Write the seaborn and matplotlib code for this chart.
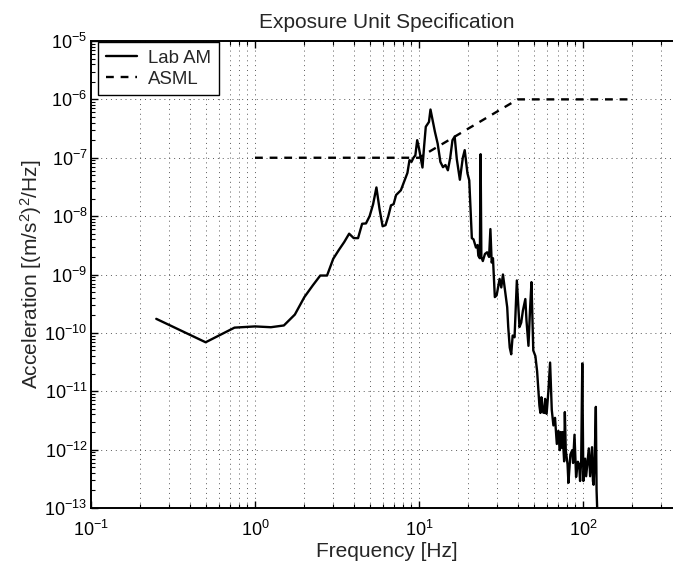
import matplotlib
matplotlib.use("Agg")
import matplotlib.pyplot as plt
import seaborn as sns
import pandas as pd
from matplotlib.ticker import LogLocator, NullFormatter, FixedLocator, FixedFormatter

# ---- data ----
lab_freq = [0.25, 0.5, 0.75, 1.0, 1.25, 1.5, 1.75, 2.0, 2.25, 2.5, 2.75, 3.0, 3.25, 3.5,
            3.75, 4.0, 4.25, 4.5, 4.75, 5.0, 5.25, 5.5, 5.75, 6.0, 6.25, 6.5, 6.75, 7.0,
            7.25, 7.75, 8.0, 8.25, 8.5, 8.75, 9.0, 9.25, 9.5, 9.75, 10.0, 10.25, 10.5,
            10.75, 11.0, 11.5, 11.75, 12.0, 12.5, 13.0, 13.5, 14.0, 14.5, 15.0, 15.5,
            16.0, 16.5, 17.0, 17.75, 18.5, 19.0, 19.75, 20.25, 21.0, 21.5, 22.25, 22.75,
            23.0, 23.5, 23.75, 24.0, 24.5, 25.25, 26.0, 26.75, 27.25, 27.75, 28.25, 29.0,
            29.75, 31.0, 31.75, 32.5, 33.75, 34.5, 35.0, 35.75, 36.5, 37.25, 38.25, 39.5,
            41.0, 42.0, 43.0, 44.5, 45.25, 46.5, 47.5, 48.5, 49.75, 51.25, 52.5, 54.25,
            55.0, 55.75, 56.75, 57.25, 58.5, 58.75, 60.0, 61.5, 63.0, 64.5, 66.0, 67.5,
            69.25, 70.75, 72.25, 73.0, 74.5, 75.0, 76.75, 77.5, 78.5, 80.5, 81.5, 83.75,
            86.0, 87.0, 88.75, 90.75, 93.0, 94.75, 96.0, 97.5, 99.0, 100.5, 103.0, 104.5,
            107.0, 108.5, 110.5, 113.5, 115.0, 116.0, 118.0, 119.75, 121.0, 122.0]
lab_accel = [1.74e-10, 6.9e-11, 1.23e-10, 1.29e-10, 1.25e-10, 1.34e-10, 2.06e-10, 4.1e-10,
             6.5e-10, 9.6e-10, 9.6e-10, 1.86e-9, 2.65e-9, 3.6e-9, 5.0e-9, 4.2e-9, 4.2e-9,
             7.4e-9, 7.5e-9, 1.0e-8, 1.6e-8, 3.1e-8, 1.3e-8, 6.7e-9, 7.0e-9, 1.0e-8,
             1.53e-8, 1.6e-8, 2.3e-8, 2.77e-8, 3.5e-8, 4.4e-8, 5.5e-8, 9.1e-8, 8.5e-8,
             1.0e-7, 1.1e-7, 2.0e-7, 1.45e-7, 1.0e-7, 6.8e-8, 1.6e-7, 3.4e-7, 4.1e-7,
             6.7e-7, 5.0e-7, 2.8e-7, 1.74e-7, 8.5e-8, 6.9e-8, 7.5e-8, 6.1e-8, 1.0e-7,
             2.0e-7, 2.3e-7, 9.5e-8, 4.2e-8, 1.0e-7, 1.35e-7, 5.4e-8, 4.1e-8, 4.2e-9,
             4.0e-9, 2.9e-9, 3.2e-9, 2.1e-9, 1.9e-9, 1.15e-7, 2.0e-9, 1.7e-9, 2.25e-9,
             2.4e-9, 2.0e-9, 6.0e-9, 1.6e-9, 1.9e-9, 4.1e-10, 4.4e-10, 8.4e-10, 6.0e-10,
             1.0e-9, 4.4e-10, 2.75e-10, 1.26e-10, 5.6e-11, 4.3e-11, 9.0e-11, 8.4e-11,
             7.9e-10, 1.26e-10, 1.5e-10, 2.4e-10, 3.8e-10, 1.6e-10, 6.0e-11, 2.4e-10,
             7.4e-10, 5.0e-11, 4.0e-11, 2.2e-11, 5.6e-12, 4.25e-12, 7.9e-12, 5.5e-12,
             4.3e-12, 4.25e-12, 7.4e-12, 4.1e-12, 1.0e-11, 3.1e-11, 4.8e-12, 2.6e-12,
             3.5e-12, 1.25e-12, 2.1e-12, 9.8e-13, 2.0e-12, 1.07e-12, 2.0e-12, 6.3e-13,
             4.4e-12, 9.8e-13, 5.6e-13, 2.7e-13, 8.2e-13, 9.8e-13, 5.9e-13, 1.8e-12,
             3.4e-13, 6.2e-13, 5.5e-13, 2.9e-13, 6.6e-13, 3.0e-11, 2.9e-13, 7.0e-13,
             3.5e-13, 7.2e-13, 1.05e-12, 3.5e-13, 1.1e-12, 2.9e-13, 2.5e-13, 8.0e-13,
             5.4e-12, 2.0e-13, 1.0e-13]

asml_freq = [1.0, 10.0, 40.0, 200.0]
asml_accel = [1e-7, 1e-7, 1e-6, 1e-6]

series_names = ["Lab AM", "ASML"]
title_text = "Exposure Unit Specification"
x_label = "Frequency [Hz]"
y_label = "Acceleration [(m/s$^2$)$^2$/Hz]"

x_tick_exps = [-1, 0, 1, 2]
y_tick_exps = [-13, -12, -11, -10, -9, -8, -7, -6, -5]

# ---- style ----
sns.set_style("ticks")
plt.rcParams["font.family"] = ["Liberation Sans", "DejaVu Sans"]
plt.rcParams["mathtext.fontset"] = "custom"
plt.rcParams["mathtext.rm"] = "Liberation Sans"
plt.rcParams["mathtext.it"] = "Liberation Sans:italic"
plt.rcParams["mathtext.bf"] = "Liberation Sans:bold"

W, H = 673, 561
fig = plt.figure(figsize=(W / 100, H / 100), dpi=100)
left_px, right_px, top_px, bottom_px, dec_px = 91, 683, 41, 508, 164
ax_w = right_px - left_px
ax_h = bottom_px - top_px
ax = fig.add_axes([left_px / W, 1 - bottom_px / H, ax_w / W, ax_h / H])

df_lab = pd.DataFrame({"f": lab_freq, "a": lab_accel, "s": series_names[0]})
df_asml = pd.DataFrame({"f": asml_freq, "a": asml_accel, "s": series_names[1]})

sns.lineplot(data=df_lab, x="f", y="a", ax=ax, color="black", linewidth=1.7,
             estimator=None, sort=False, label=series_names[0])
sns.lineplot(data=df_asml, x="f", y="a", ax=ax, color="black", linewidth=1.7,
             estimator=None, sort=False, label=series_names[1])
ax.lines[1].set_dashes([3.3, 2.9])

ax.set_xscale("log")
ax.set_yscale("log")
ax.set_xlim(1e-1, 10 ** (-1 + ax_w / dec_px))
ax.set_ylim(1e-13, 1e-5)

def fmt(e):
    return r"$\mathdefault{10^{%d}}$" % e

ax.xaxis.set_major_locator(FixedLocator([10.0 ** e for e in x_tick_exps]))
ax.xaxis.set_major_formatter(FixedFormatter([fmt(e) for e in x_tick_exps]))
ax.yaxis.set_major_locator(FixedLocator([10.0 ** e for e in y_tick_exps]))
ax.yaxis.set_major_formatter(FixedFormatter([fmt(e) for e in y_tick_exps]))
ax.xaxis.set_minor_locator(LogLocator(base=10, subs=range(2, 10), numticks=50))
ax.yaxis.set_minor_locator(LogLocator(base=10, subs=range(2, 10), numticks=50))
ax.xaxis.set_minor_formatter(NullFormatter())
ax.yaxis.set_minor_formatter(NullFormatter())

ax.tick_params(which="both", direction="in", top=True, right=True, colors="black",
               labelsize=13)
ax.tick_params(which="major", length=5, width=1.0)
ax.tick_params(which="minor", length=3, width=0.8)
ax.tick_params(axis="x", which="major", pad=8.5)
ax.tick_params(axis="y", which="major", pad=2.5)

for sp in ax.spines.values():
    sp.set_linewidth(1.4)
    sp.set_color("black")

grid_kw = dict(color="0.35", linewidth=0.7, linestyle=(0, (1, 4)))
ax.grid(True, which="major", axis="both", **grid_kw)
ax.grid(True, which="minor", axis="x", **grid_kw)

ax.set_title(title_text, fontsize=15, pad=9)
ax.set_xlabel(x_label, fontsize=15, labelpad=1.5)
ax.set_ylabel(y_label, fontsize=15)
ax.yaxis.set_label_coords(-47 / ax_w, 0.5)

leg = ax.legend(loc="upper left", bbox_to_anchor=(7 / ax_w, 1 - 1 / ax_h), borderaxespad=0,
                fontsize=13.4, frameon=True, fancybox=False, edgecolor="black",
                framealpha=1, handlelength=1.65, handletextpad=0.6, borderpad=0.42,
                labelspacing=0.2)
leg.get_frame().set_linewidth(1.0)

fig.savefig("out.png", dpi=100)
